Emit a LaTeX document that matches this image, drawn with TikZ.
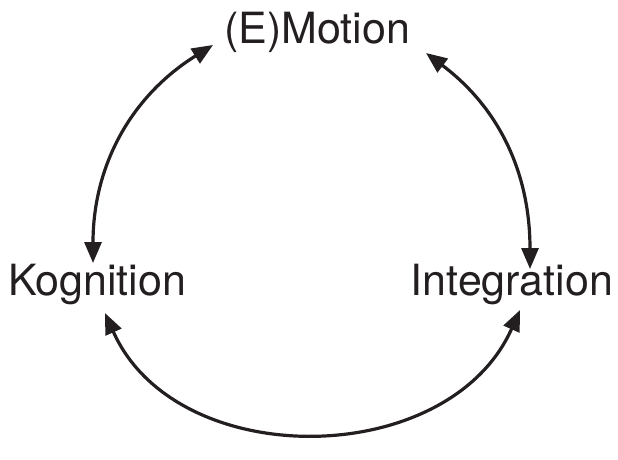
\documentclass[tikz,border=0pt]{standalone}
\usepackage{fontspec}
\setmainfont{TeX Gyre Heros}
\usetikzlibrary{arrows.meta}
\definecolor{ink}{HTML}{231F20}
\begin{document}
\begin{tikzpicture}[x=1pt,y=-1pt,
  lbl/.style={font=\fontsize{43}{48}\selectfont, text=ink, inner sep=0pt, anchor=base},
  link/.style={draw=ink, line width=3.2pt, {Triangle[length=21pt,width=17pt]}-{Triangle[length=21pt,width=17pt]}}]
\useasboundingbox (0,0) rectangle (618,460);
\node[lbl] (emo) at (317,44) {(E)Motion};
\node[lbl] (kog) at (97,295) {Kognition};
\node[lbl] (int) at (512,295) {Integration};
\coordinate (emoL) at (213,45);
\coordinate (emoR) at (426,53);
\coordinate (kogT) at (93,263);
\coordinate (kogB) at (105,313);
\coordinate (intT) at (530,269);
\coordinate (intB) at (520,310);
\draw[link] (kogT) to[out=90,in=212] (emoL);
\draw[link] (intT) to[out=90,in=-37] (emoR);
\draw[link] (kogB) to[out=-66,in=-114,looseness=1.08] (intB);
\end{tikzpicture}
\end{document}
